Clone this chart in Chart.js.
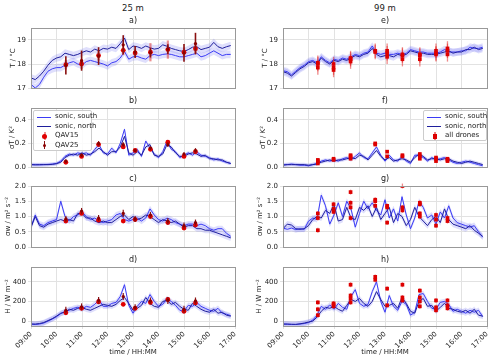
<!DOCTYPE html>
<html>
<head>
<meta charset="utf-8">
<script src="https://cdn.jsdelivr.net/npm/chart.js@4.4.1/dist/chart.umd.min.js"></script>
<style>
  body { margin: 0; background: #fff; font-family: "DejaVu Sans", sans-serif; }
  #wrap { position: relative; width: 500px; height: 357px; overflow: hidden; background: #fff; }
  canvas { position: absolute; }
  .head { position: absolute; width: 80px; margin-left: -40px; text-align: center; font-size: 8.5px; color: #222; }
  .ptitle { position: absolute; width: 40px; margin-left: -20px; text-align: center; font-size: 8px; color: #222; }
  .legend { position: absolute; background: rgba(255,255,255,0.85); border: 1px solid #ccc; border-radius: 2px; font-size: 7px; color: #222; padding-top: 1px; box-sizing: border-box; }
  .legend .row { height: 9.5px; line-height: 9.5px; white-space: nowrap; position: relative; padding-left: 21px; }
  .legend .ln { position: absolute; left: 3px; top: 4.5px; width: 14px; height: 1px; }
  .legend .bar { position: absolute; left: 9.5px; top: 0.5px; width: 2px; height: 8px; }
  .legend .dot { position: absolute; left: 8px; top: 2.5px; width: 5px; height: 5px; border-radius: 50%; }
  .legend .sq { position: absolute; left: 8.5px; top: 2.5px; width: 4px; height: 5px; }
</style>
</head>
<body>
<div id="wrap">
  <div class="head" style="left:133px;top:3px">25 m</div>
  <div class="head" style="left:385px;top:3px">99 m</div>

  <div class="legend" style="left:33px;top:110px;width:59px;height:41px;z-index:5">
    <div class="row"><span class="ln" style="background:#3b3bf5"></span>sonic, south</div>
    <div class="row"><span class="ln" style="background:#1f1f9c"></span>sonic, north</div>
    <div class="row"><span class="bar" style="background:rgba(225,70,70,0.6)"></span><span class="dot" style="background:#e00000"></span>QAV15</div>
    <div class="row"><span class="bar" style="background:#8a1010;width:1.2px;left:10px"></span><span class="dot" style="background:#8b0000;width:3px;height:3px;left:9px;top:3.5px"></span>QAV25</div>
  </div>
  <div class="legend" style="left:423px;top:110px;width:64px;height:31px;z-index:5">
    <div class="row"><span class="ln" style="background:#3b3bf5"></span>sonic, south</div>
    <div class="row"><span class="ln" style="background:#1f1f9c"></span>sonic, north</div>
    <div class="row"><span class="bar" style="background:rgba(225,40,40,0.6)"></span><span class="sq" style="background:#dd0000"></span>all drones</div>
  </div>
</div>

<script>
// sonic time stamps (10 min)
const times = ['09:00','09:10','09:20','09:30','09:40','09:50','10:00','10:10','10:20','10:30','10:40','10:50',
  '11:00','11:10','11:20','11:30','11:40','11:50','12:00','12:10','12:20','12:30','12:40','12:50',
  '13:00','13:10','13:20','13:30','13:40','13:50','14:00','14:10','14:20','14:30','14:40','14:50',
  '15:00','15:10','15:20','15:30','15:40','15:50','16:00','16:10','16:20','16:30','16:40','16:50'];
const droneTimes = ['10:22','10:59','11:39','12:37','13:05','13:41','14:22','15:00','15:27'];
const hourTicks = ['09:00','10:00','11:00','12:00','13:00','14:00','15:00','16:00','17:00'];

// 25 m
const tSouth25 = [17.15,17.0,17.15,17.45,17.7,17.8,17.85,17.85,17.95,18.05,18.1,18.0,17.95,18.1,18.15,18.1,18.05,18.0,17.92,18.05,18.1,18.25,18.52,18.2,18.3,18.32,18.25,18.2,18.35,18.4,18.35,18.4,18.42,18.4,18.35,18.3,18.3,18.35,18.4,18.45,18.3,18.35,18.45,18.55,18.45,18.35,18.4,18.4];
const tNorth25 = [17.42,17.35,17.5,17.7,17.95,18.15,18.25,18.3,18.45,18.4,18.35,18.4,18.48,18.55,18.5,18.62,18.55,18.65,18.62,18.7,18.65,18.85,19.08,18.6,18.75,18.72,18.65,18.75,18.68,18.62,18.65,18.8,18.74,18.65,18.6,18.55,18.52,18.6,18.7,18.72,18.6,18.65,18.7,18.9,18.72,18.65,18.72,18.77];
const sTSouth25 = [0.02,0.02,0.018,0.02,0.022,0.025,0.03,0.05,0.09,0.11,0.1,0.12,0.11,0.12,0.1,0.15,0.19,0.12,0.11,0.16,0.12,0.2,0.32,0.1,0.12,0.15,0.09,0.22,0.16,0.11,0.08,0.13,0.22,0.15,0.13,0.08,0.1,0.12,0.1,0.13,0.1,0.09,0.08,0.06,0.07,0.05,0.04,0.03];
const sTNorth25 = [0.02,0.018,0.02,0.02,0.02,0.022,0.028,0.04,0.08,0.1,0.11,0.1,0.12,0.1,0.11,0.13,0.16,0.13,0.1,0.13,0.13,0.17,0.26,0.12,0.1,0.13,0.1,0.17,0.19,0.1,0.09,0.11,0.19,0.17,0.12,0.09,0.09,0.11,0.12,0.11,0.09,0.1,0.07,0.07,0.06,0.06,0.04,0.03];
const sWSouth25 = [0.65,1.05,0.75,0.7,0.8,0.85,0.9,1.5,1.0,0.85,1.0,1.05,1.15,1.0,0.9,0.95,0.85,0.8,0.85,0.9,1.05,1.1,0.9,0.85,0.9,0.95,0.85,0.95,1.25,1.05,0.9,0.85,0.95,0.9,0.8,0.75,0.7,0.75,0.75,0.7,0.75,0.7,0.6,0.55,0.6,0.6,0.45,0.35];
const sWNorth25 = [0.65,1.0,0.7,0.65,0.75,0.8,0.85,0.9,0.85,0.9,0.85,1.1,1.1,0.95,0.95,0.85,0.8,0.85,0.8,0.8,0.9,1.0,1.05,0.9,1.0,0.9,0.95,1.05,1.0,0.9,0.8,0.9,0.85,0.8,0.85,0.75,0.65,0.7,0.7,0.6,0.6,0.55,0.55,0.5,0.45,0.4,0.35,0.3];
const hSouth25 = [-30,-35,-30,-20,0,20,45,75,100,110,130,140,120,150,140,170,215,150,150,180,190,250,370,160,80,150,200,180,270,200,150,170,230,200,160,110,100,160,150,190,150,130,110,100,130,80,70,55];
const hNorth25 = [-30,-30,-25,-15,5,25,50,80,90,120,110,130,140,120,110,130,150,170,160,150,170,210,240,180,110,130,160,240,180,150,140,200,210,170,190,150,120,110,180,150,120,100,90,120,80,90,60,50];

const qav15T = [17.97,18.0,18.35,18.57,18.46,18.49,18.6,18.49,18.64];
const qav15TErr = [0.2,0.2,0.2,0.2,0.15,0.38,0.38,0.2,0.2];
const qav25T = [17.94,18.14,18.33,18.8,18.5,18.47,18.62,18.46,18.85];
const qav25TErr = [0.38,0.42,0.37,0.4,0.25,0.2,0.2,0.37,0.45];
const qav15ST = [0.04,0.09,0.19,0.17,0.14,0.15,0.21,0.09,0.13];
const qav15STErr = [0.01,0.01,0.015,0.012,0.012,0.012,0.015,0.01,0.01];
const qav25ST = [0.05,0.1,0.2,0.19,0.14,0.16,0.19,0.11,0.14];
const qav25STErr = [0.015,0.015,0.02,0.02,0.015,0.015,0.02,0.015,0.02];
const qav15SW = [0.85,1.1,0.88,0.85,0.9,1.0,0.8,0.62,0.72];
const qav15SWErr = [0.06,0.06,0.06,0.06,0.06,0.06,0.06,0.06,0.06];
const qav25SW = [0.92,1.18,0.95,1.1,0.92,1.05,0.85,0.7,0.8];
const qav25SWErr = [0.1,0.1,0.1,0.12,0.1,0.1,0.1,0.1,0.1];
const qav15H = [85,130,195,170,130,190,220,100,185];
const qav15HErr = [20,20,20,20,20,20,20,20,20];
const qav25H = [110,145,210,250,140,205,210,120,205];
const qav25HErr = [35,35,35,35,30,35,35,35,35];

// 99 m
const tSouth99 = [17.72,17.68,17.55,17.7,17.85,17.95,18.1,18.15,18.05,18.3,18.15,18.05,18.2,18.15,18.25,18.2,18.3,18.4,18.35,18.45,18.5,18.75,18.45,18.4,18.45,18.4,18.4,18.45,18.4,18.45,18.6,18.55,18.5,18.5,18.45,18.45,18.45,18.5,18.6,18.5,18.5,18.5,18.55,18.55,18.7,18.65,18.65,18.7];
const tNorth99 = [17.68,17.62,17.5,17.65,17.8,17.9,18.05,18.1,18.0,18.25,18.1,18.0,18.15,18.1,18.2,18.15,18.25,18.35,18.3,18.4,18.45,18.65,18.4,18.3,18.35,18.35,18.3,18.4,18.35,18.4,18.55,18.5,18.45,18.45,18.4,18.4,18.4,18.45,18.5,18.55,18.45,18.5,18.5,18.6,18.6,18.7,18.6,18.65];
const sTSouth99 = [0.02,0.02,0.025,0.02,0.015,0.015,0.01,0.02,0.03,0.05,0.06,0.05,0.06,0.05,0.07,0.08,0.06,0.09,0.12,0.08,0.07,0.12,0.17,0.1,0.05,0.1,0.06,0.05,0.09,0.05,0.03,0.1,0.1,0.08,0.05,0.08,0.06,0.07,0.08,0.06,0.04,0.03,0.04,0.05,0.04,0.03,0.02,0.01];
const sTNorth99 = [0.015,0.02,0.02,0.02,0.02,0.02,0.015,0.02,0.025,0.04,0.05,0.06,0.05,0.06,0.06,0.07,0.08,0.07,0.1,0.09,0.06,0.1,0.14,0.09,0.06,0.08,0.05,0.06,0.07,0.06,0.04,0.08,0.11,0.09,0.06,0.07,0.07,0.06,0.07,0.07,0.05,0.04,0.03,0.04,0.05,0.04,0.03,0.02];
const sWSouth99 = [0.62,0.58,0.62,0.57,0.6,0.58,0.85,0.95,0.9,1.7,1.35,0.75,1.05,1.45,1.0,1.5,1.25,0.65,1.1,1.5,1.25,1.45,1.2,1.05,1.55,0.95,1.25,0.85,1.65,1.05,0.6,0.95,1.5,1.3,0.95,1.05,0.75,1.15,0.95,1.35,0.95,0.8,0.75,0.7,0.65,0.7,0.5,0.32];
const sWNorth99 = [0.6,0.75,0.72,0.6,0.58,0.6,0.7,0.9,1.0,0.95,1.2,1.1,1.4,0.85,0.9,1.3,0.95,0.9,1.3,1.2,1.35,1.0,1.3,0.9,1.1,1.3,0.8,1.1,1.0,0.7,0.9,1.3,1.0,0.85,0.7,0.9,1.0,0.8,1.25,0.9,0.75,0.7,0.65,0.6,0.7,0.55,0.45,0.35];
const hSouth99 = [-30,-32,-35,-35,-30,-25,-15,10,60,150,120,165,120,180,140,120,250,320,180,150,170,300,400,200,90,260,150,110,200,170,60,90,270,280,200,130,120,190,200,170,100,120,100,80,110,90,110,45];
const hNorth99 = [-30,-30,-32,-33,-28,-20,-10,0,40,100,140,130,150,120,100,160,220,200,230,180,150,200,300,220,150,160,180,130,240,180,100,80,200,230,150,160,100,140,180,130,120,100,90,110,80,120,60,50];

const droneT99 = [[17.85,18.0,18.05],[17.75,17.85,18.0],[18.1,18.2,18.25],[18.5,18.55],[18.3,18.45,18.55],[18.2,18.35,18.4],[18.2,18.35,18.4],[18.4,18.45,18.55],[18.4,18.55,18.65]];
const droneST99 = [[0.03,0.05,0.06],[0.06,0.07],[0.07,0.09,0.1],[0.19,0.2],[0.09,0.13],[0.09,0.1],[0.07,0.09,0.11],[0.05,0.07,0.08],[0.05,0.06,0.07]];
const droneSW99 = [[0.55,0.95,1.1],[1.15,1.25,1.4],[0.95,1.3,1.45,1.8],[1.35,1.5,1.55],[0.8,1.3,1.35],[1.2,1.3,2.0],[1.0,1.1,1.4,1.45],[0.7,0.9,1.05],[0.85,0.95]];
const droneH99 = [[60,120,190],[150,170,180],[190,230,260,370],[420,450],[160,330],[210,240,370],[150,200,240,310],[110,140,210],[130,160,210]];
const droneErr99 = { T: 0.3, ST: 0.012, SW: 0.08, H: 25 };

// sonic uncertainty (band half width)
const unc = { T: 0.16, ST: 0.015, SW: 0.1, H: 28 };

const southColor = '#3b3bf5';
const northColor = '#1f1f9c';
const bandColor = 'rgba(110,110,240,0.22)';

const toMin = s => { const [h, m] = s.split(':').map(Number); return h * 60 + m; };
const fmtMin = v => String(Math.floor(v / 60)).padStart(2, '0') + ':' + String(v % 60).padStart(2, '0');

const errorBars = {
    id: 'errorBars',
    beforeDatasetDraw(chart, args) {
        const ds = chart.data.datasets[args.index];
        if (!ds.errs) return;
        const { ctx, scales: { x, y } } = chart;
        ctx.save();
        ctx.strokeStyle = ds.errColor;
        ctx.lineWidth = ds.errWidth;
        ds.data.forEach((p, i) => {
            const px = x.getPixelForValue(p.x);
            ctx.beginPath();
            ctx.moveTo(px, y.getPixelForValue(p.y - ds.errs[i]));
            ctx.lineTo(px, y.getPixelForValue(p.y + ds.errs[i]));
            ctx.stroke();
        });
        ctx.restore();
    }
};

const frame = {
    id: 'frame',
    afterDatasetsDraw(chart) {
        const { ctx, chartArea: a } = chart;
        ctx.save();
        ctx.strokeStyle = '#999';
        ctx.lineWidth = 1;
        ctx.strokeRect(Math.round(a.left) + 0.5, Math.round(a.top) + 0.5, Math.round(a.right - a.left), Math.round(a.bottom - a.top));
        ctx.restore();
    }
};

const plotTop = [28, 108, 186, 267];
const plotBottom = [88, 167, 247, 326];
const plotLeft = [31, 283];
const plotRight = [235, 487];
const letters = [['a)', 'b)', 'c)', 'd)'], ['e)', 'f)', 'g)', 'h)']];

function lineSets(south, north, u) {
    const pts = arr => arr.map((v, i) => ({ x: toMin(times[i]), y: v }));
    const shift = (arr, d) => arr.map((v, i) => ({ x: toMin(times[i]), y: v + d }));
    const line = (arr, c, o) => ({ data: pts(arr), borderColor: c, borderWidth: 1, pointRadius: 0, fill: false, order: o });
    const band = (arr, d, f) => ({ data: shift(arr, d), borderWidth: 0, pointRadius: 0, backgroundColor: bandColor, fill: f, order: 5 });
    return [
        line(south, southColor, 2),
        line(north, northColor, 1),
        band(south, -u, false), band(south, u, '-1'),
        band(north, -u, false), band(north, u, '-1'),
    ];
}

function qavSet(vals, errs, color, errColor, errWidth, r) {
    return {
        data: vals.map((v, i) => ({ x: toMin(droneTimes[i]), y: v })),
        errs, errColor, errWidth,
        showLine: false, pointRadius: r, pointBackgroundColor: color, pointBorderWidth: 0, order: 0
    };
}

function allDronesSet(nested, err) {
    const data = [], errs = [];
    nested.forEach((vals, i) => vals.forEach(v => { data.push({ x: toMin(droneTimes[i]), y: v }); errs.push(err); }));
    return {
        data, errs, errColor: 'rgba(225,40,40,0.55)', errWidth: 1.3,
        showLine: false, pointStyle: 'rect', pointRadius: 2.6, pointBackgroundColor: '#dd0000', pointBorderWidth: 0, order: 0
    };
}

const panels = [
    { col: 0, row: 0, label: 'T / °C', min: 17, max: 19.5, ticks: [17, 18, 19], dec: 0, tpad: 8.8,
      sets: () => [qavSet(qav25T, qav25TErr, '#8b0000', '#8a1010', 1.6, 1.6), qavSet(qav15T, qav15TErr, '#e00000', 'rgba(225,70,70,0.6)', 2.2, 2.4), ...lineSets(tSouth25, tNorth25, unc.T)] },
    { col: 0, row: 1, label: 'σT / K²', min: 0, max: 0.5, ticks: [0, 0.2, 0.4], dec: 1, tpad: 7.5,
      sets: () => [qavSet(qav25ST, qav25STErr, '#8b0000', '#8a1010', 1.2, 1.6), qavSet(qav15ST, qav15STErr, '#e00000', 'rgba(225,70,70,0.6)', 2.2, 2.4), ...lineSets(sTSouth25, sTNorth25, unc.ST)] },
    { col: 0, row: 2, label: 'σw / m² s⁻²', min: 0, max: 2, ticks: [0, 0.5, 1, 1.5, 2], dec: 1, tpad: 4.3,
      sets: () => [qavSet(qav25SW, qav25SWErr, '#8b0000', '#8a1010', 1.2, 1.6), qavSet(qav15SW, qav15SWErr, '#e00000', 'rgba(225,70,70,0.6)', 2.2, 2.4), ...lineSets(sWSouth25, sWNorth25, unc.SW)] },
    { col: 0, row: 3, label: 'H / W m⁻²', min: -50, max: 550, ticks: [0, 200, 400], dec: 0, tpad: 4,
      sets: () => [qavSet(qav25H, qav25HErr, '#8b0000', '#8a1010', 1.2, 1.6), qavSet(qav15H, qav15HErr, '#e00000', 'rgba(225,70,70,0.6)', 2.2, 2.4), ...lineSets(hSouth25, hNorth25, unc.H)] },
    { col: 1, row: 0, label: 'T / °C', min: 17, max: 19.5, ticks: [17, 18, 19], dec: 0, tpad: 10.5,
      sets: () => [allDronesSet(droneT99, droneErr99.T), ...lineSets(tSouth99, tNorth99, unc.T)] },
    { col: 1, row: 1, label: 'σT / K²', min: 0, max: 0.5, ticks: [0, 0.2, 0.4], dec: 1, tpad: 8.5,
      sets: () => [allDronesSet(droneST99, droneErr99.ST), ...lineSets(sTSouth99, sTNorth99, unc.ST)] },
    { col: 1, row: 2, label: 'σw / m² s⁻²', min: 0, max: 2, ticks: [0, 0.5, 1, 1.5, 2], dec: 1, tpad: 5.8,
      sets: () => [allDronesSet(droneSW99, droneErr99.SW), ...lineSets(sWSouth99, sWNorth99, unc.SW)] },
    { col: 1, row: 3, label: 'H / W m⁻²', min: -50, max: 550, ticks: [0, 200, 400], dec: 0, tpad: 4.8,
      sets: () => [allDronesSet(droneH99, droneErr99.H), ...lineSets(hSouth99, hNorth99, unc.H)] },
];

const wrap = document.getElementById('wrap');
const font = { family: 'DejaVu Sans', size: 7 };
const padTop = 8;

panels.forEach(p => {
    const bottomRow = p.row === 3;
    const colLeft = p.col * 250;
    const axisH = bottomRow ? 31 : 0;
    const padBottom = bottomRow ? 0 : 8;
    const h = plotBottom[p.row] - plotTop[p.row] + padTop + axisH + padBottom;

    const cv = document.createElement('canvas');
    cv.width = 250; cv.height = h;
    cv.style.left = colLeft + 'px';
    cv.style.top = (plotTop[p.row] - padTop) + 'px';
    wrap.appendChild(cv);

    const t = document.createElement('div');
    t.className = 'ptitle';
    t.textContent = letters[p.col][p.row];
    t.style.left = ((plotLeft[p.col] + plotRight[p.col]) / 2) + 'px';
    t.style.top = (plotTop[p.row] - 12) + 'px';
    wrap.appendChild(t);

    new Chart(cv, {
        type: 'line',
        data: { datasets: p.sets() },
        plugins: [errorBars, frame],
        options: {
            responsive: false,
            animation: false,
            layout: { padding: { left: 0, right: colLeft + 250 - plotRight[p.col], top: padTop, bottom: padBottom } },
            plugins: { legend: { display: false }, tooltip: { enabled: false } },
            scales: {
                x: {
                    type: 'linear', min: toMin('09:00'), max: toMin('17:00'),
                    afterBuildTicks: s => { s.ticks = hourTicks.map(v => ({ value: toMin(v) })); },
                    afterFit: s => { s.height = axisH; },
                    border: { display: false },
                    grid: { color: '#e2e2e2', drawTicks: bottomRow, tickLength: 3 },
                    ticks: { display: bottomRow, autoSkip: false, maxRotation: 45, minRotation: 45, padding: 1,
                             font, color: '#222', callback: v => fmtMin(v) },
                    title: { display: bottomRow, text: 'time / HH:MM', font, color: '#222', padding: { top: 0, bottom: 1 } }
                },
                y: {
                    min: p.min, max: p.max,
                    afterBuildTicks: s => { s.ticks = p.ticks.map(v => ({ value: v })); },
                    afterFit: s => { s.width = plotLeft[p.col] - colLeft; },
                    border: { display: false },
                    grid: { color: '#e2e2e2', tickLength: 3 },
                    ticks: { font, color: '#222', padding: 2, callback: v => v.toFixed(p.dec) },
                    title: { display: true, text: p.label, font, color: '#222', padding: { top: p.tpad, bottom: 0 } }
                }
            }
        }
    });
});
</script>
</body>
</html>
